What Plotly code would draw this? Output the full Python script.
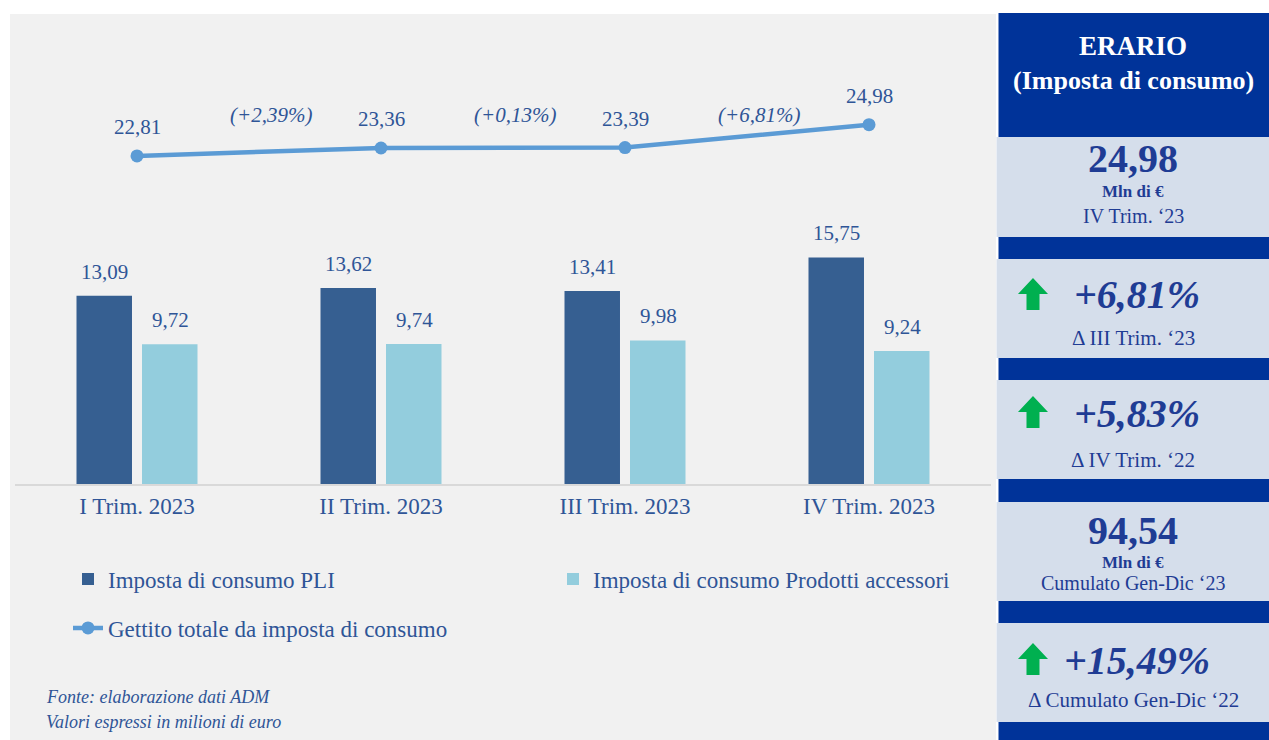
import plotly.graph_objects as go

# ---------------- data ----------------
categories = ["I Trim. 2023", "II Trim. 2023", "III Trim. 2023", "IV Trim. 2023"]
pli = [13.09, 13.62, 13.41, 15.75]
accessori = [9.72, 9.74, 9.98, 9.24]
totale = [22.81, 23.36, 23.39, 24.98]
var_trim = [2.39, 0.13, 6.81]

series_names = ["Imposta di consumo PLI",
                "Imposta di consumo Prodotti accessori",
                "Gettito totale da imposta di consumo"]

panel_title = ["ERARIO", "(Imposta di consumo)"]
kpi_value_q = 24.98
kpi_var_prev_q = 6.81
kpi_var_prev_y = 5.83
kpi_cumulato = 94.54
kpi_var_cumulato = 15.49

fonte = ["Fonte: elaborazione dati ADM", "Valori espressi in milioni di euro"]

# ---------------- layout helpers ----------------
OFF = 0   # page body margin is removed below, so figure pixels = screen pixels
W, H = 1269 - OFF, 740 - OFF
PLOT_L, PLOT_R, PLOT_T, PLOT_B = 15, 991, 110, 484   # screen pixels
ML = PLOT_L - OFF
MR = W - (PLOT_R - OFF)
MT = PLOT_T - OFF
MB = H - (PLOT_B - OFF)
PW = W - ML - MR
PH = H - MT - MB


def px(x):
    return (x - OFF - ML) / PW


def py(y):
    return (H - MB - (y - OFF)) / PH


def fmt(v):
    return f"{v:.2f}".replace(".", ",")


FONT = "Liberation Serif"
TXT = "#2F5597"
PANEL_TXT = "#1F3C94"
DARK = "#003399"
LIGHT = "#D5DEEB"
GREEN = "#00B050"

fig = go.Figure()
fig.add_trace(go.Bar(x=categories, y=pli, name=series_names[0],
                     marker=dict(color="#365F91", line=dict(width=0))))
fig.add_trace(go.Bar(x=categories, y=accessori, name=series_names[1],
                     marker=dict(color="#93CDDD", line=dict(width=0))))
fig.add_trace(go.Scatter(x=categories, y=totale, name=series_names[2],
                         mode="lines+markers", legend="legend2",
                         line=dict(color="#5B9BD5", width=4.5),
                         marker=dict(color="#5B9BD5", size=13)))

annotations = []
lab_font = dict(family=FONT, size=21, color=TXT)
for i, v in enumerate(pli):
    annotations.append(dict(x=i, y=v, xref="x", yref="y", text=fmt(v), showarrow=False,
                            xshift=-33, yshift=24, yanchor="middle", font=lab_font))
for i, v in enumerate(accessori):
    annotations.append(dict(x=i, y=v, xref="x", yref="y", text=fmt(v), showarrow=False,
                            xshift=33, yshift=24, yanchor="middle", font=lab_font))
for i, v in enumerate(totale):
    annotations.append(dict(x=i, y=v, xref="x", yref="y", text=fmt(v), showarrow=False,
                            yshift=29, yanchor="middle", font=lab_font))
for i, v in enumerate(var_trim):
    annotations.append(dict(x=i + 0.55, y=25.65, xref="x", yref="y",
                            text=f"<i>(+{fmt(v)}%)</i>", showarrow=False,
                            yanchor="middle", font=lab_font))

# footnote
for j, t in enumerate(fonte):
    annotations.append(dict(x=px(44), y=py(697 + 25 * j), xref="paper", yref="paper",
                            text=f"<i>{t}</i>", showarrow=False, xanchor="left",
                            yanchor="middle", font=dict(family=FONT, size=18, color=TXT)))

# ---------------- right panel ----------------
shapes = []
shapes.append(dict(type="rect", xref="paper", yref="paper", layer="below",
                   x0=px(10), x1=px(996), y0=py(14), y1=py(745),
                   fillcolor="#F1F1F1", line=dict(width=0)))
shapes.append(dict(type="rect", xref="paper", yref="paper",
                   x0=px(998.5), x1=px(1275), y0=py(13), y1=py(745),
                   fillcolor=DARK, line=dict(width=0)))
boxes = [(137, 237), (259, 358), (380, 479), (502, 601), (623, 722)]
for y0, y1 in boxes:
    shapes.append(dict(type="rect", xref="paper", yref="paper",
                       x0=px(996.5), x1=px(1275), y0=py(y0), y1=py(y1),
                       fillcolor=LIGHT, line=dict(width=0)))


def arrow(top):
    x0, x1, xc = 1018, 1048, 1033
    yh, yb = top + 16, top + 32
    s0, s1 = 1026.5, 1039.5
    pts = [(x0, yh), (xc, top), (x1, yh), (s1, yh), (s1, yb), (s0, yb), (s0, yh)]
    d = "M " + " L ".join(f"{px(a):.5f},{py(b):.5f}" for a, b in pts) + " Z"
    return dict(type="path", xref="paper", yref="paper", path=d,
                fillcolor=GREEN, line=dict(width=0))


for top in (278, 396, 643):
    shapes.append(arrow(top))

CX = px(1133)


def ptext(text, y, size, color=PANEL_TXT, x=CX):
    annotations.append(dict(x=x, y=py(y), xref="paper", yref="paper", text=text,
                            showarrow=False, xanchor="center", yanchor="middle",
                            font=dict(family=FONT, size=size, color=color)))


ptext(f"<b>{panel_title[0]}</b>", 46, 27, "white")
ptext(f"<b>{panel_title[1]}</b>", 81, 26, "white")

ptext(f"<b>{fmt(kpi_value_q)}</b>", 158, 40)
ptext("<b>Mln di €</b>", 191, 17)
ptext("IV Trim. ‘23", 216, 20)

ptext(f"<b><i>+{fmt(kpi_var_prev_q)}%</i></b>", 294, 40, x=px(1137))
ptext("Δ III Trim. ‘23", 338, 21)

ptext(f"<b><i>+{fmt(kpi_var_prev_y)}%</i></b>", 413, 40, x=px(1137))
ptext("Δ IV Trim. ‘22", 460, 21)

ptext(f"<b>{fmt(kpi_cumulato)}</b>", 530, 40)
ptext("<b>Mln di €</b>", 562, 17)
ptext("Cumulato Gen-Dic ‘23", 583, 20)

ptext(f"<b><i>+{fmt(kpi_var_cumulato)}%</i></b>", 660, 40, x=px(1137))
ptext("Δ Cumulato Gen-Dic ‘22", 700, 21)

fig.update_layout(
    width=W, height=H,
    margin=dict(l=ML, r=MR, t=MT, b=MB),
    paper_bgcolor="white", plot_bgcolor="rgba(0,0,0,0)",
    barmode="group", bargap=0.463, bargroupgap=0.153,
    separators=",.",
    hovermode=False,
    font=dict(family=FONT, color=TXT),
    xaxis=dict(type="category", range=[-0.5, 3.5], showline=True,
               linecolor="#D9D9D9", linewidth=2, ticks="", showgrid=False,
               tickfont=dict(family=FONT, size=23, color=TXT), fixedrange=True),
    yaxis=dict(range=[0, 26], visible=False, fixedrange=True),
    legend=dict(orientation="h", x=px(68), y=py(579), xanchor="left", yanchor="middle",
                font=dict(family=FONT, size=23, color=TXT), bgcolor="rgba(0,0,0,0)",
                entrywidth=440, entrywidthmode="pixels", traceorder="normal"),
    legend2=dict(orientation="h", x=px(68), y=py(628), xanchor="left", yanchor="middle",
                 font=dict(family=FONT, size=23, color=TXT), bgcolor="rgba(0,0,0,0)"),
    shapes=shapes,
    annotations=annotations,
)

fig.write_html("out.html", config={"displayModeBar": False},
               post_script="document.body.style.margin='0px';"
                           "document.body.style.overflow='hidden';")
